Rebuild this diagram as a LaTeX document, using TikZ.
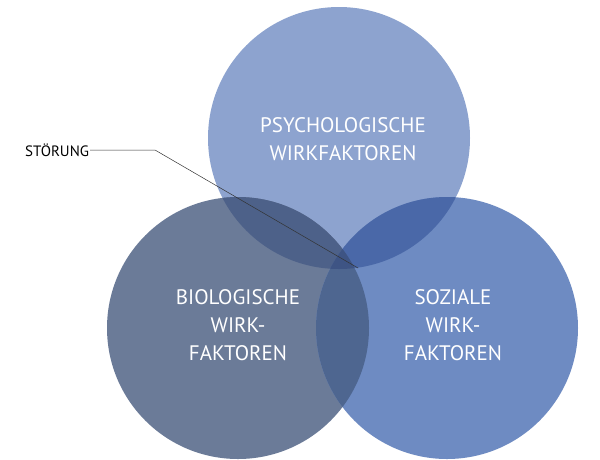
\documentclass[tikz,border=0pt]{standalone}
\usepackage{fontspec}
\setmainfont{PT Sans}
\usepackage{xcolor}
\usepackage{tikz}
\usetikzlibrary{positioning}

\definecolor{psyblau}{HTML}{8DA3CF}
\definecolor{bioblau}{HTML}{6B7B98}
\definecolor{sozblau}{HTML}{6E8BC2}
\definecolor{pbblau}{HTML}{4D6189}
\definecolor{psblau}{HTML}{4A68A8}
\definecolor{bsblau}{HTML}{4E6690}
\definecolor{mitteblau}{HTML}{3E5484}

\begin{document}
\begin{tikzpicture}[x=1pt,y=-1pt]
    % Stile
    \tikzstyle{kreis} = [circle, minimum size=262pt, inner sep=0pt]
    \tikzstyle{titel} = [text=white, align=center, font=\fontsize{21}{28}\selectfont]
    \tikzstyle{zeiger} = [draw=black!80, line width=0.5pt]

    \useasboundingbox (0,0) rectangle (600,459);

    % Kreise
    \node (psy) [kreis, fill=psyblau] at (339,138) {};
    \node (bio) [kreis, fill=bioblau] at (238,328) {};
    \node (soz) [kreis, fill=sozblau] at (447,328) {};

    % Schnittflaechen
    \begin{scope}
        \clip (339,138) circle (131);
        \fill[pbblau] (238,328) circle (131);
    \end{scope}
    \begin{scope}
        \clip (339,138) circle (131);
        \fill[psblau] (447,328) circle (131);
    \end{scope}
    \begin{scope}
        \clip (238,328) circle (131);
        \fill[bsblau] (447,328) circle (131);
    \end{scope}
    \begin{scope}
        \clip (339,138) circle (131);
        \clip (238,328) circle (131);
        \fill[mitteblau] (447,328) circle (131);
    \end{scope}

    % Texte
    \node [titel] at (343,139) {PSYCHOLOGISCHE\\WIRKFAKTOREN};
    \node [titel] at (238,325) {BIOLOGISCHE\\WIRK-\\FAKTOREN};
    \node [titel] at (453,325) {SOZIALE\\WIRK-\\FAKTOREN};

    % Stoerung
    \node (stoerung) [anchor=west, font=\fontsize{15}{18}\selectfont, inner sep=1pt] at (24,150) {STÖRUNG};
    \coordinate (knick) at (155,150);
    \coordinate (mitte) at (358,268);
    \draw [zeiger] (stoerung.east) -- (knick) -- (mitte);
\end{tikzpicture}
\end{document}
